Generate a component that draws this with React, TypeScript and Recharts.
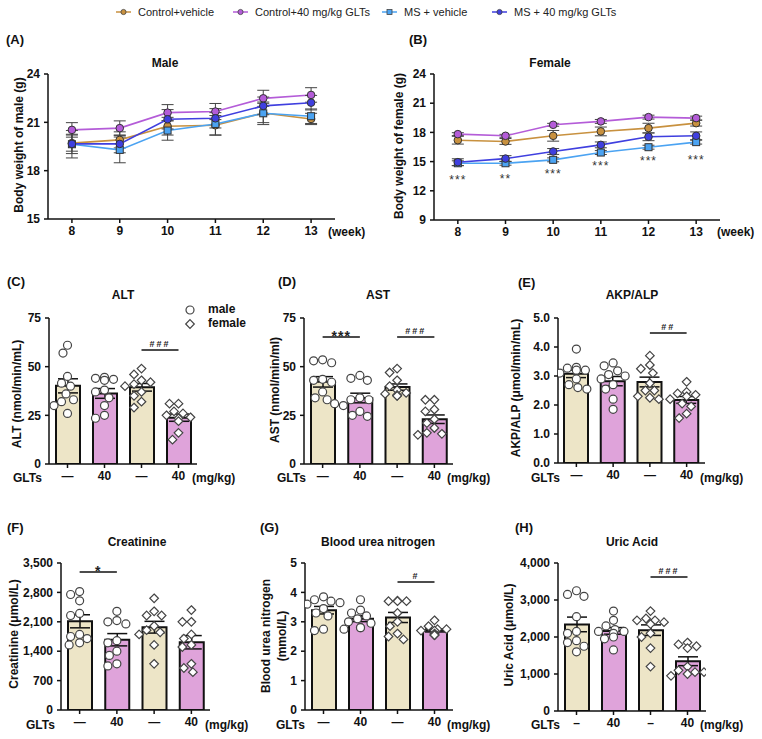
import React from 'react';
import { ComposedChart, Line, Bar, Cell, Scatter, XAxis, YAxis, ErrorBar, ReferenceLine } from 'recharts';

const FONT = '"Liberation Sans", Arial, Helvetica, sans-serif';

// ---------- series / legend ----------
const legendNames = ['Control+vehicle', 'Control+40 mg/kg GLTs', 'MS + vehicle', 'MS + 40 mg/kg GLTs'];
const seriesColors = ['#C8913F', '#B45CD8', '#4BA3F2', '#3F3FDF'];
const seriesShapes = ['circle', 'circle', 'square', 'circle'];

// ---------- body weight (A, B) ----------
const weeks = [8, 9, 10, 11, 12, 13];
const maleCtrlVeh = [19.71, 19.91, 20.76, 20.82, 21.58, 21.21];
const maleCtrlVehErr = [0.5, 0.5, 0.55, 0.6, 0.6, 0.35];
const maleCtrlGlt = [20.53, 20.64, 21.6, 21.67, 22.49, 22.7];
const maleCtrlGltErr = [0.45, 0.45, 0.5, 0.5, 0.5, 0.45];
const maleMsVeh = [19.64, 19.29, 20.49, 20.9, 21.56, 21.38];
const maleMsVehErr = [0.85, 0.8, 0.6, 0.7, 0.7, 0.45];
const maleMsGlt = [19.66, 19.66, 21.19, 21.25, 22.02, 22.22];
const maleMsGltErr = [0.6, 0.55, 0.6, 0.6, 0.55, 0.45];

const femaleCtrlVeh = [17.2, 17.07, 17.65, 18.1, 18.44, 18.95];
const femaleCtrlVehErr = [0.4, 0.3, 0.55, 0.45, 0.5, 0.3];
const femaleCtrlGlt = [17.82, 17.65, 18.78, 19.13, 19.57, 19.47];
const femaleCtrlGltErr = [0.15, 0.15, 0.15, 0.2, 0.2, 0.2];
const femaleMsVeh = [14.83, 14.83, 15.18, 15.93, 16.48, 17.0];
const femaleMsVehErr = [0.25, 0.2, 0.2, 0.2, 0.2, 0.2];
const femaleMsGlt = [14.94, 15.31, 16.04, 16.72, 17.55, 17.65];
const femaleMsGltErr = [0.35, 0.3, 0.3, 0.3, 0.4, 0.4];
const femaleStars = ['***', '**', '***', '***', '***', '***'];
const femaleStarY = [13.45, 13.55, 14.03, 14.82, 15.4, 15.5];

const maleTicks = [15, 18, 21, 24];
const femaleTicks = [9, 12, 15, 18, 21, 24];

// ---------- serum biochemistry (C-H) ----------
const groupLabels = ['—', '40', '—', '40'];
const groupLabelsH = ['–', '40', '–', '40'];
const barColors = ['#EDE5C7', '#DFA3DA', '#EDE5C7', '#DFA3DA'];

const altGroups = [
  [61, 57, 45, 41.5, 40, 36, 33, 32, 30, 26],
  [44.5, 44, 43.5, 43, 38, 37, 34, 30, 25, 23.5],
  [49, 46, 43, 42, 41, 40, 37, 35, 32, 29],
  [31, 31, 27, 26, 25, 24, 23.5, 22, 16, 12.5],
];
const altTicks = [0, 25, 50, 75];
const altSig = [{ from: 2, to: 3, y: 58.6, text: '###' }];

const astGroups = [
  [53.5, 53, 52, 43.5, 43, 42, 37, 34, 33, 31],
  [45.5, 44, 43, 34, 33, 33, 30, 27, 25, 24.5],
  [49, 47, 43, 40, 38, 36.5, 36, 35.5, 35, 35],
  [33, 33, 28, 27, 23, 21, 18.5, 16, 15.5, 15],
];
const astTicks = [0, 25, 50, 75];
const astSig = [
  { from: 0, to: 1, y: 65.2, text: '***' },
  { from: 2, to: 3, y: 65.2, text: '###' },
];

const akpGroups = [
  [3.93, 3.3, 3.27, 3.2, 3.2, 3.1, 2.9, 2.7, 2.6, 2.55],
  [3.45, 3.35, 3.18, 3.05, 3.0, 2.9, 2.7, 2.55, 2.2, 1.85],
  [3.7, 3.38, 3.25, 3.1, 2.75, 2.5, 2.5, 2.3, 2.25, 2.2],
  [2.8, 2.45, 2.4, 2.35, 2.3, 2.2, 2.05, 1.95, 1.7, 1.55],
];
const akpTicks = [0, 1, 2, 3, 4, 5];
const akpSig = [{ from: 2, to: 3, y: 4.48, text: '##' }];

const creaGroups = [
  [2820, 2750, 2600, 2300, 2250, 1800, 1750, 1700, 1600, 1550],
  [2350, 2130, 2100, 2050, 1650, 1600, 1400, 1300, 1100, 1050],
  [2660, 2350, 2250, 2250, 2000, 1900, 1850, 1800, 1550, 1100],
  [2380, 2100, 2100, 1800, 1700, 1550, 1500, 1100, 1000, 900],
];
const creaTicks = [0, 700, 1400, 2100, 2800, 3500];
const creaSig = [{ from: 0, to: 1, y: 3286, text: '*' }];

const bunGroups = [
  [3.85, 3.75, 3.7, 3.65, 3.6, 3.45, 3.3, 3.2, 2.75, 2.7],
  [3.75, 3.4, 3.3, 3.2, 3.1, 3.0, 2.95, 2.8, 2.8, 2.75],
  [3.72, 3.7, 3.7, 3.7, 3.3, 3.0, 2.85, 2.6, 2.5, 2.4],
  [3.05, 2.85, 2.75, 2.75, 2.7, 2.7, 2.6, 2.55, 2.55, 2.55],
];
const bunTicks = [0, 1, 2, 3, 4, 5];
const bunSig = [{ from: 2, to: 3, y: 4.35, text: '#' }];

const uaGroups = [
  [3250, 3150, 3100, 2550, 2150, 2100, 1900, 1850, 1750, 1600],
  [2700, 2450, 2300, 2200, 2150, 2150, 2100, 2000, 1950, 1650],
  [2700, 2500, 2450, 2450, 2400, 2350, 2100, 2000, 1700, 1200],
  [1850, 1800, 1750, 1700, 1200, 1100, 1050, 1050, 1000, 950],
];
const uaTicks = [0, 1000, 2000, 3000, 4000];
const uaSig = [{ from: 2, to: 3, y: 3620, text: '###' }];

// ---------- helpers ----------
const XH = 24;
const axisStroke = { stroke: '#111', strokeWidth: 1.5 };
const tickStyle = { fontSize: 12, fontWeight: 700, fill: '#111', fontFamily: FONT };

const mean = (a: number[]) => a.reduce((s, v) => s + v, 0) / a.length;
const sem = (a: number[]) => {
  const m = mean(a);
  const v = a.reduce((s, x) => s + (x - m) * (x - m), 0) / (a.length - 1);
  return Math.sqrt(v) / Math.sqrt(a.length);
};

// simple beeswarm: spread points horizontally so they do not overlap
function swarm(groups: number[][], yMax: number, plotH: number, plotW: number) {
  const pxPerY = plotH / yMax;
  const band = plotW / 4;
  const d = 8.4;
  const out: { x: number; y: number; g: number }[] = [];
  groups.forEach((vals, gi) => {
    const placed: { x: number; y: number }[] = [];
    vals.forEach((v) => {
      const py = v * pxPerY;
      let best = 0;
      for (let k = 0; k < 30; k++) {
        const off = k === 0 ? 0 : (k % 2 ? -1 : 1) * Math.ceil(k / 2) * 1.5;
        if (Math.abs(off) > band * 0.45) break;
        if (placed.every((p) => Math.hypot(p.x - off, p.y - py) >= d)) {
          best = off;
          break;
        }
      }
      placed.push({ x: best, y: py });
      out.push({ x: gi + best / band, y: v, g: gi });
    });
  });
  return out;
}

type Box = { L: number; T: number; W: number; H: number; x0: number; x1: number; y0: number; y1: number };
const margins = (b: Box) => ({ top: b.y0 - b.T, right: b.L + b.W - b.x1, bottom: b.T + b.H - b.y1 - XH, left: 0 });

function Txt(props: { x: number; y: number; anchor?: 'start' | 'middle' | 'end'; size?: number; bold?: boolean; rotate?: boolean; color?: string; children: React.ReactNode }) {
  const { x, y, anchor = 'middle', size = 12, bold = true, rotate = false, color = '#111', children } = props;
  const tx = anchor === 'start' ? '0' : anchor === 'end' ? '-100%' : '-50%';
  return (
    <div
      style={{
        position: 'absolute',
        left: x,
        top: y,
        transform: `translate(${rotate ? '-50%' : tx},-50%)${rotate ? ' rotate(-90deg)' : ''}`,
        fontFamily: FONT,
        fontSize: size,
        fontWeight: bold ? 700 : 400,
        color,
        whiteSpace: 'nowrap',
        lineHeight: 1.15,
        textAlign: 'center',
      }}
    >
      {children}
    </div>
  );
}

const makeDot = (color: string, shape: string) => (p: any) => {
  const { cx, cy, index } = p;
  if (cx == null || cy == null) return <g key={`n${index}`} />;
  return shape === 'square' ? (
    <rect key={`d${index}`} x={cx - 3.5} y={cy - 3.5} width={7} height={7} fill={color} stroke="#333" strokeWidth={1} />
  ) : (
    <circle key={`d${index}`} cx={cx} cy={cy} r={3.8} fill={color} stroke="#333" strokeWidth={1} />
  );
};

const starDot = (p: any) => {
  const { cx, cy, index } = p;
  if (cx == null || cy == null) return <g key={`s${index}`} />;
  return (
    <text key={`s${index}`} x={cx} y={cy + 7} textAnchor="middle" fontSize={12} fill="#333" fontFamily={FONT} letterSpacing={1}>
      {femaleStars[index]}
    </text>
  );
};

function WeightPanel(props: { box: Box; series: number[][]; errs: number[][]; ticks: number[]; stars?: boolean }) {
  const { box, series, errs, ticks, stars } = props;
  const rows = weeks.map((w, i) => {
    const r: any = { week: w };
    series.forEach((s, k) => {
      r[`s${k}`] = s[i];
      r[`e${k}`] = errs[k][i];
    });
    if (stars) r.star = femaleStarY[i];
    return r;
  });
  return (
    <div style={{ position: 'absolute', left: box.L, top: box.T }}>
      <ComposedChart width={box.W} height={box.H} data={rows} margin={margins(box)}>
        <XAxis
          dataKey="week"
          type="number"
          domain={[7.5, 13.5]}
          ticks={weeks}
          height={XH}
          tick={tickStyle}
          tickSize={4}
          tickMargin={3}
          axisLine={axisStroke}
          tickLine={axisStroke}
          allowDataOverflow
        />
        <YAxis
          width={box.x0 - box.L}
          type="number"
          domain={[ticks[0], ticks[ticks.length - 1]]}
          ticks={ticks}
          tick={tickStyle}
          tickSize={4}
          tickMargin={4}
          axisLine={axisStroke}
          tickLine={axisStroke}
          allowDataOverflow
        />
        {series.map((_, k) => (
          <Line
            key={k}
            dataKey={`s${k}`}
            stroke={seriesColors[k]}
            strokeWidth={1.6}
            dot={makeDot(seriesColors[k], seriesShapes[k])}
            activeDot={false}
            isAnimationActive={false}
          >
            <ErrorBar dataKey={`e${k}`} width={6} stroke="#444" strokeWidth={1} direction="y" />
          </Line>
        ))}
        {stars && (
          <Line dataKey="star" stroke="none" dot={starDot} activeDot={false} isAnimationActive={false} legendType="none" />
        )}
      </ComposedChart>
    </div>
  );
}

const pointShape = (p: any) => {
  const { cx, cy, payload } = p;
  if (cx == null || cy == null) return <g />;
  if (payload.g < 2) return <circle cx={cx} cy={cy} r={4} fill="#fff" stroke="#444" strokeWidth={1.2} />;
  const s = 4.3;
  return (
    <polygon
      points={`${cx},${cy - s} ${cx + s},${cy} ${cx},${cy + s} ${cx - s},${cy}`}
      fill="#fff"
      stroke="#444"
      strokeWidth={1.2}
    />
  );
};

function BarPanel(props: {
  box: Box;
  groups: number[][];
  ticks: number[];
  fmt: (v: number) => string;
  sig: { from: number; to: number; y: number; text: string }[];
  labels: string[];
}) {
  const { box, groups, ticks, fmt, sig, labels } = props;
  const yMax = ticks[ticks.length - 1];
  const rows = labels.map((name, i) => ({ name, mean: mean(groups[i]), sem: sem(groups[i]) }));
  const pts = swarm(groups, yMax, box.y1 - box.y0, box.x1 - box.x0);
  return (
    <div style={{ position: 'absolute', left: box.L, top: box.T }}>
      <ComposedChart width={box.W} height={box.H} data={rows} margin={margins(box)}>
        <XAxis
          xAxisId="c"
          dataKey="name"
          type="category"
          height={XH}
          tick={tickStyle}
          tickSize={4}
          tickMargin={3}
          interval={0}
          axisLine={axisStroke}
          tickLine={axisStroke}
        />
        <XAxis xAxisId="n" dataKey="x" type="number" domain={[-0.5, 3.5]} hide allowDataOverflow />
        <YAxis
          width={box.x0 - box.L}
          type="number"
          domain={[0, yMax]}
          ticks={ticks}
          tickFormatter={fmt}
          tick={tickStyle}
          tickSize={4}
          tickMargin={4}
          axisLine={axisStroke}
          tickLine={axisStroke}
          allowDataOverflow
        />
        <Bar xAxisId="c" dataKey="mean" barSize={24} stroke="#111" strokeWidth={2} isAnimationActive={false}>
          {rows.map((_, i) => (
            <Cell key={i} fill={barColors[i]} />
          ))}
          <ErrorBar dataKey="sem" width={10} stroke="#111" strokeWidth={1.5} direction="y" />
        </Bar>
        <Scatter xAxisId="n" data={pts} dataKey="y" shape={pointShape} isAnimationActive={false} />
        {sig.map((s, i) => (
          <ReferenceLine
            key={i}
            xAxisId="n"
            segment={[
              { x: s.from, y: s.y },
              { x: s.to, y: s.y },
            ]}
            stroke="#111"
            strokeWidth={1.5}
            label={(lp: any) => {
              const vb = lp.viewBox || {};
              const star = s.text.includes('*');
              return (
                <text
                  x={(vb.x || 0) + (vb.width || 0) / 2}
                  y={(vb.y || 0) + (star ? 4 : -3)}
                  textAnchor="middle"
                  fontSize={star ? 14 : 9}
                  fontWeight={700}
                  fill="#222"
                  fontFamily={FONT}
                  letterSpacing={star ? 1 : 2}
                >
                  {s.text}
                </text>
              );
            }}
          />
        ))}
      </ComposedChart>
    </div>
  );
}

const fmtInt = (v: number) => String(v);
const fmtOne = (v: number) => v.toFixed(1);
const fmtComma = (v: number) => v.toLocaleString('en-US');

function LegendItem(props: { x: number; color: string; shape: string; text: string }) {
  const { x, color, shape, text } = props;
  return (
    <>
      <svg style={{ position: 'absolute', left: x, top: 7 }} width={15} height={10}>
        <line x1={0} y1={5} x2={15} y2={5} stroke={color} strokeWidth={1.5} />
        {shape === 'square' ? (
          <rect x={5} y={2.5} width={5} height={5} fill={color} stroke="#444" strokeWidth={0.8} />
        ) : (
          <circle cx={7.5} cy={5} r={2.6} fill={color} stroke="#444" strokeWidth={0.8} />
        )}
      </svg>
      <Txt x={x + 22} y={12} anchor="start" size={11} bold={false} color="#222">
        {text}
      </Txt>
    </>
  );
}

export default function App() {
  const boxA: Box = { L: 0, T: 50, W: 380, H: 200, x0: 48, x1: 335, y0: 74, y1: 219 };
  const boxB: Box = { L: 380, T: 50, W: 382, H: 200, x0: 434, x1: 720, y0: 74, y1: 220 };
  const boxC: Box = { L: 0, T: 300, W: 250, H: 200, x0: 49, x1: 197, y0: 318, y1: 464 };
  const boxD: Box = { L: 250, T: 300, W: 250, H: 200, x0: 304, x1: 453, y0: 318, y1: 464 };
  const boxE: Box = { L: 500, T: 300, W: 262, H: 200, x0: 558, x1: 705, y0: 318, y1: 463 };
  const boxF: Box = { L: 0, T: 545, W: 250, H: 194, x0: 61, x1: 210, y0: 563, y1: 710 };
  const boxG: Box = { L: 250, T: 545, W: 250, H: 194, x0: 305, x1: 453, y0: 563, y1: 710 };
  const boxH: Box = { L: 500, T: 545, W: 262, H: 194, x0: 558, x1: 706, y0: 563, y1: 711 };

  const legendX = [116, 233, 382, 492];

  return (
    <div style={{ position: 'absolute', left: 0, top: 0, width: 762, height: 739, background: '#fff', overflow: 'hidden', fontFamily: FONT }}>
      {legendNames.map((n, i) => (
        <LegendItem key={n} x={legendX[i]} color={seriesColors[i]} shape={seriesShapes[i]} text={n} />
      ))}

      <WeightPanel
        box={boxA}
        series={[maleCtrlVeh, maleCtrlGlt, maleMsVeh, maleMsGlt]}
        errs={[maleCtrlVehErr, maleCtrlGltErr, maleMsVehErr, maleMsGltErr]}
        ticks={maleTicks}
      />
      <WeightPanel
        box={boxB}
        series={[femaleCtrlVeh, femaleCtrlGlt, femaleMsVeh, femaleMsGlt]}
        errs={[femaleCtrlVehErr, femaleCtrlGltErr, femaleMsVehErr, femaleMsGltErr]}
        ticks={femaleTicks}
        stars
      />

      <BarPanel box={boxC} groups={altGroups} ticks={altTicks} fmt={fmtInt} sig={altSig} labels={groupLabels} />
      <BarPanel box={boxD} groups={astGroups} ticks={astTicks} fmt={fmtInt} sig={astSig} labels={groupLabels} />
      <BarPanel box={boxE} groups={akpGroups} ticks={akpTicks} fmt={fmtOne} sig={akpSig} labels={groupLabels} />
      <BarPanel box={boxF} groups={creaGroups} ticks={creaTicks} fmt={fmtComma} sig={creaSig} labels={groupLabels} />
      <BarPanel box={boxG} groups={bunGroups} ticks={bunTicks} fmt={fmtInt} sig={bunSig} labels={groupLabels} />
      <BarPanel box={boxH} groups={uaGroups} ticks={uaTicks} fmt={fmtComma} sig={uaSig} labels={groupLabelsH} />

      {/* panel letters */}
      <Txt x={6} y={40} anchor="start" size={13}>(A)</Txt>
      <Txt x={409} y={40} anchor="start" size={13}>(B)</Txt>
      <Txt x={7} y={282} anchor="start" size={13}>(C)</Txt>
      <Txt x={278} y={282} anchor="start" size={13}>(D)</Txt>
      <Txt x={518} y={283} anchor="start" size={13}>(E)</Txt>
      <Txt x={7} y={528} anchor="start" size={13}>(F)</Txt>
      <Txt x={260} y={528} anchor="start" size={13}>(G)</Txt>
      <Txt x={515} y={528} anchor="start" size={13}>(H)</Txt>

      {/* titles */}
      <Txt x={165} y={64}>Male</Txt>
      <Txt x={550} y={64}>Female</Txt>
      <Txt x={123} y={296}>ALT</Txt>
      <Txt x={378} y={296}>AST</Txt>
      <Txt x={632} y={296}>AKP/ALP</Txt>
      <Txt x={137} y={543}>Creatinine</Txt>
      <Txt x={378} y={543}>Blood urea nitrogen</Txt>
      <Txt x={632} y={543}>Uric Acid</Txt>

      {/* y-axis titles */}
      <Txt x={20} y={145} rotate>Body weight of male (g)</Txt>
      <Txt x={400} y={146} rotate>Body weight of female (g)</Txt>
      <Txt x={18} y={394} rotate>ALT (nmol/min/mL)</Txt>
      <Txt x={276} y={390} rotate>AST (nmol/min/ml)</Txt>
      <Txt x={517} y={388} rotate>AKP/ALP (μmol/min/mL)</Txt>
      <Txt x={15} y={634} rotate>Creatinine (μmol/L)</Txt>
      <Txt x={267} y={636} rotate>Blood urea nitrogen</Txt>
      <Txt x={283} y={636} rotate>(mmol/L)</Txt>
      <Txt x={510} y={635} rotate>Uric Acid (μmol/L)</Txt>

      {/* x-axis extra labels */}
      <Txt x={328} y={233} anchor="start">(week)</Txt>
      <Txt x={717} y={233} anchor="start">(week)</Txt>

      <Txt x={13} y={479} anchor="start">GLTs</Txt>
      <Txt x={192} y={479} anchor="start">(mg/kg)</Txt>
      <Txt x={277} y={479} anchor="start">GLTs</Txt>
      <Txt x={447} y={479} anchor="start">(mg/kg)</Txt>
      <Txt x={531} y={479} anchor="start">GLTs</Txt>
      <Txt x={700} y={479} anchor="start">(mg/kg)</Txt>
      <Txt x={26} y={726} anchor="start">GLTs</Txt>
      <Txt x={205} y={726} anchor="start">(mg/kg)</Txt>
      <Txt x={276} y={726} anchor="start">GLTs</Txt>
      <Txt x={447} y={726} anchor="start">(mg/kg)</Txt>
      <Txt x={531} y={726} anchor="start">GLTs</Txt>
      <Txt x={700} y={726} anchor="start">(mg/kg)</Txt>

      {/* male / female key in panel C */}
      <svg style={{ position: 'absolute', left: 184, top: 303 }} width={12} height={28}>
        <circle cx={6} cy={7} r={4} fill="#fff" stroke="#444" strokeWidth={1.2} />
        <polygon points="6,16.7 10.3,21 6,25.3 1.7,21" fill="#fff" stroke="#444" strokeWidth={1.2} />
      </svg>
      <Txt x={208} y={310} anchor="start">male</Txt>
      <Txt x={208} y={324} anchor="start">female</Txt>
    </div>
  );
}
